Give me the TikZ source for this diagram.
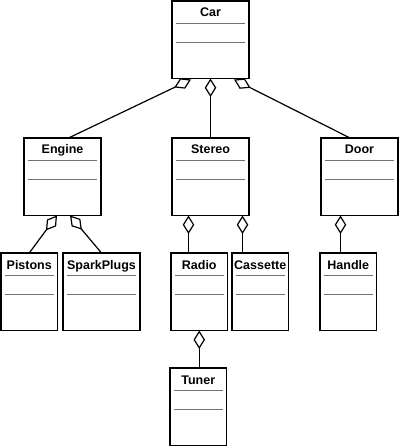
\documentclass[tikz,border=0pt]{standalone}
\usepackage{fontspec}
\setmainfont{Liberation Sans}
\usetikzlibrary{arrows.meta, positioning, calc, backgrounds}

\begin{document}
\begin{tikzpicture}[x=1pt, y=-1pt,
    every node/.style={font=\fontsize{12.5}{14}\selectfont\bfseries},
    classbox/.style={draw, line width=1.3pt, fill=white, anchor=north west, outer sep=0pt,
      inner xsep=0pt, inner ysep=0pt, text height=16pt, text depth=61.5pt, minimum width=77pt},
    narrowbox/.style={minimum width=56.5pt},
    sep/.style={draw=black!55, line width=0.9pt},
    agg/.style={line width=1.2pt, {Diamond[open, length=18.5pt, width=11.5pt]}-}]
  \useasboundingbox (0,0) rectangle (400,446);
  % classes
  \node[classbox] (car) at (172,1) {Car};
  \node[classbox] (engine) at (24,138) {Engine};
  \node[classbox] (stereo) at (172,138) {Stereo};
  \node[classbox] (door) at (321,138) {Door};
  \node[classbox, narrowbox] (pistons) at (1,253) {Pistons};
  \node[classbox] (sparkplugs) at (63,253) {SparkPlugs};
  \node[classbox, narrowbox] (radio) at (171,253) {Radio};
  \node[classbox, narrowbox] (cassette) at (232,253) {Cassette};
  \node[classbox, narrowbox] (handle) at (320,253) {Handle};
  \node[classbox, narrowbox] (tuner) at (170,368) {Tuner};
  % attribute / operation compartments
  \foreach \n in {car, engine, stereo, door, pistons, sparkplugs, radio, cassette, handle, tuner} {
    \draw[sep] ($(\n.north west)+(4,22.5)$) -- ($(\n.north east)+(-4,22.5)$);
    \draw[sep] ($(\n.north west)+(4,41)$) -- ($(\n.north east)+(-4,41)$);
  }
  % aggregations
  \begin{scope}[on background layer]
    \draw[agg] ($(car.south west)+(19,1)$) -- ($(engine.north)+(6,0)$);
    \draw[agg] (car.south) -- (stereo.north);
    \draw[agg] ($(car.south west)+(62,1)$) -- ($(door.north west)+(29,0)$);
    \draw[agg] ($(engine.south)+(-5.5,0)$) -- (pistons.north);
    \draw[agg] ($(engine.south)+(7.5,0)$) -- (sparkplugs.north);
    \draw[agg] ($(stereo.south west)+(16.5,0)$) coordinate (s1) -- (s1 |- radio.north);
    \draw[agg] ($(stereo.south east)+(-6.5,0)$) coordinate (s2) -- (s2 |- cassette.north);
    \draw[agg] ($(door.south west)+(19.5,0)$) coordinate (d1) -- (d1 |- handle.north);
    \draw[agg] (radio.south) -- (radio.south |- tuner.north);
  \end{scope}
\end{tikzpicture}
\end{document}
